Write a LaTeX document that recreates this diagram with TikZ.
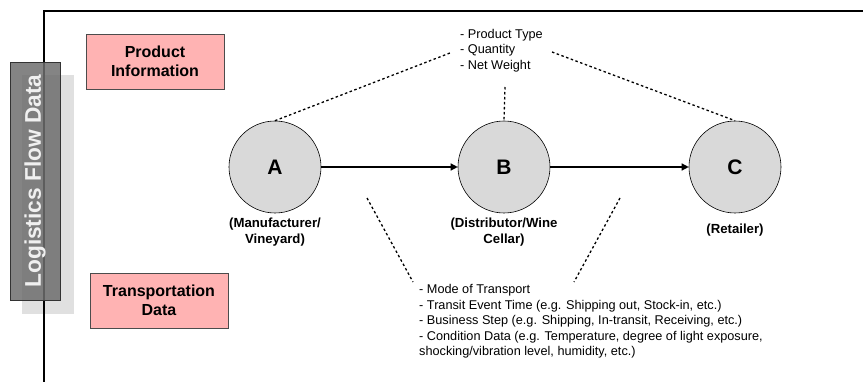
\documentclass[tikz,border=0pt]{standalone}
\usepackage{fontspec}
\setmainfont{Liberation Sans}
\usetikzlibrary{arrows.meta}
\definecolor{pinkbox}{HTML}{FFB3B3}
\definecolor{nodegray}{HTML}{D9D9D9}
\definecolor{bandgray}{HTML}{6E6E6E}
\definecolor{shadegray}{HTML}{E0E0E0}
\tikzset{
  infobox/.style={draw=black!70, fill=pinkbox, line width=0.8pt, minimum width=138pt, minimum height=55pt,
    align=center, font=\fontsize{16}{19}\selectfont\bfseries, inner sep=0pt},
  station/.style={circle, draw=black, fill=nodegray, line width=0.6pt, minimum size=92pt, inner sep=0pt,
    font=\fontsize{21}{24}\selectfont\bfseries},
  role/.style={align=center, font=\fontsize{13.2}{16}\selectfont\bfseries, inner sep=0pt},
  datalist/.style={align=left, font=\fontsize{12.7}{15.6}\selectfont, inner sep=0pt},
  link/.style={line width=1.3pt, dash pattern=on 2.5pt off 2.5pt},
  flow/.style={line width=1.3pt, -{Triangle[length=7pt,width=7pt]}}
}
\begin{document}
\begin{tikzpicture}[x=1pt, y=-1pt]
\useasboundingbox (0,0) rectangle (863,382);
% frame
\fill[shadegray] (22,75) rectangle (74,314);
\draw[line width=1.8pt] (44,382) -- (44,11) -- (863,11);
% side band
\fill[bandgray, fill opacity=0.85] (10,62) rectangle (60,300);
\draw[line width=0.8pt, black!80] (10,62) rectangle (60,300);
\node[rotate=90, text=white!94!black, font=\fontsize{22.7}{26}\selectfont\bfseries] (band) at (35,181) {Logistics Flow Data};
% category boxes
\node[infobox] (prod) at (155,61.5) {Product\\Information};
\node[infobox] (trans) at (159,300.5) {Transportation\\Data};
% stations
\node[station] (A) at (275,167) {A};
\node[station] (B) at (504,167) {B};
\node[station] (C) at (735,167) {C};
\node[role, anchor=north] (ra) at (275,218) {(Manufacturer/\\Vineyard)};
\node[role, anchor=north] (rb) at (504,218) {(Distributor/Wine\\Cellar)};
\node[role, anchor=north] (rc) at (735,224) {(Retailer)};
\draw[flow] (A) -- (B);
\draw[flow] (B) -- (C);
% product data
\node[datalist, anchor=north west] (pd) at (460,29) {- Product Type\\- Quantity\\- Net Weight};
\coordinate (pl) at (450,53);
\coordinate (pr) at (552,52);
\coordinate (pm) at (505,87);
\draw[link] (A.north) -- (pl);
\draw[link] (pr) -- (C.north);
\draw[link] (pm) -- (B.north);
% transportation data
\node[datalist, anchor=north west] (td) at (419,284) {- Mode of Transport\\- Transit Event Time (e.g. Shipping out, Stock-in, etc.)\\- Business Step (e.g. Shipping, In-transit, Receiving, etc.)\\- Condition Data (e.g. Temperature, degree of light exposure,\\shocking/vibration level, humidity, etc.)};
\coordinate (tl1) at (367,198);
\coordinate (tl2) at (413,282);
\coordinate (tr1) at (620,198);
\coordinate (tr2) at (574,282);
\draw[link] (tl1) -- (tl2);
\draw[link] (tr1) -- (tr2);
\end{tikzpicture}
\end{document}
